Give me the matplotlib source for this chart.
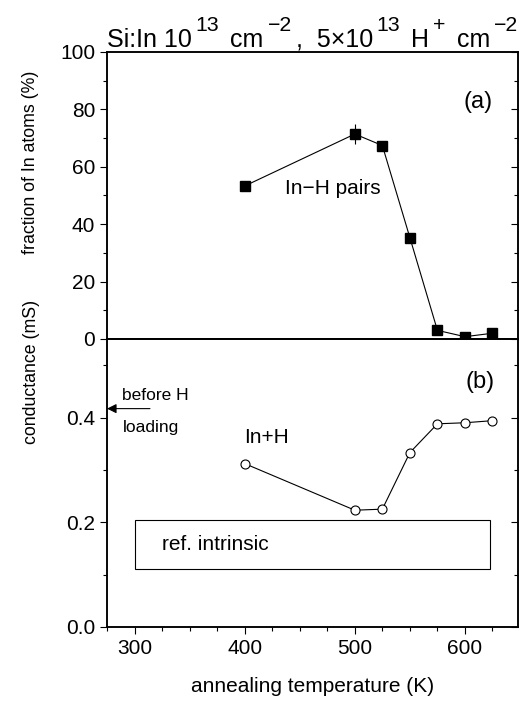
import numpy as np
import matplotlib
matplotlib.use("Agg")
import matplotlib.pyplot as plt
from matplotlib.patches import Rectangle

plt.rcParams['font.family'] = ['Liberation Sans', 'DejaVu Sans']

# --- data ---
temp_a = [400, 500, 525, 550, 575, 600, 625]
frac_inh = [53.3, 71.4, 67.4, 35.3, 3.0, 0.8, 2.0]
err_inh = [0, 3.5, 0, 0, 0, 0, 0]

temp_b = [400, 500, 525, 550, 575, 600, 625]
cond = [0.312, 0.223, 0.225, 0.333, 0.388, 0.390, 0.394]

cond_before = 0.417
ref_x = [300, 623]
ref_y = [0.110, 0.204]

# title pieces: (text, superscript?)
title_parts = [('Si:In 10', False), ('13', True), (' cm', False),
               ('\u22122', True), (',  5\u00d710', False), ('13', True),
               (' H', False), ('+', True), (' cm', False), ('\u22122', True)]

W, H = 520, 704
fig = plt.figure(figsize=(W / 100, H / 100), dpi=100)
ax1 = fig.add_axes([0.2058, 0.5185, 0.790, 0.4077])
ax2 = fig.add_axes([0.2058, 0.1094, 0.790, 0.4091])

fs = 15

# --- panel (a) ---
ax1.plot(temp_a, frac_inh, color='black', lw=0.8, marker='s', ms=7,
         mfc='black', mec='black')
ax1.errorbar(temp_a[1], frac_inh[1], yerr=err_inh[1], color='black',
             lw=0.8, capsize=0)
ax1.set_ylim(0, 100)
ax1.set_yticks(np.arange(0, 101, 20))
ax1.set_yticks(np.arange(10, 100, 20), minor=True)
ax1.text(612, 82.5, '(a)', fontsize=17, ha='center', va='center')
ax1.text(480, 52.5, 'In\u2212H pairs', fontsize=fs, ha='center', va='center')

# --- panel (b) ---
ax2.plot(temp_b, cond, color='black', lw=0.8, marker='o', ms=6.5,
         mfc='white', mec='black', mew=0.8)
ax2.set_ylim(0, 0.55)
ax2.set_yticks([0.0, 0.2, 0.4])
ax2.set_yticks([0.1, 0.3, 0.5], minor=True)
ax2.set_yticklabels(['0.0', '0.2', '0.4'])
ax2.text(614, 0.467, '(b)', fontsize=17, ha='center', va='center')
ax2.text(420, 0.362, 'In+H', fontsize=fs, ha='center', va='center')
ax2.add_patch(Rectangle((ref_x[0], ref_y[0]), ref_x[1] - ref_x[0],
                        ref_y[1] - ref_y[0], fill=False, lw=0.8,
                        edgecolor='black'))
ax2.text(325, (ref_y[0] + ref_y[1]) / 2, 'ref. intrinsic', fontsize=fs,
         ha='left', va='center')
ax2.annotate('', xy=(275, cond_before), xytext=(314, cond_before),
             arrowprops=dict(arrowstyle='-|>', color='black', lw=0.8,
                             mutation_scale=14, shrinkA=0, shrinkB=0))
ax2.text(289, 0.442, 'before H', fontsize=12.5, ha='left', va='center')
ax2.text(289, 0.38, 'loading', fontsize=12.5, ha='left', va='center')
ax2.set_xlabel('annealing temperature (K)', fontsize=fs, labelpad=14)

# y labels sit above the panel centres in the original
fig.text(31 / W, 1 - 162 / H, 'fraction of In atoms (%)', rotation=90,
         fontsize=12.8, ha='center', va='center')
fig.text(31 / W, 1 - 372 / H, 'conductance (mS)', rotation=90,
         fontsize=12.8, ha='center', va='center')

for ax in (ax1, ax2):
    ax.set_xlim(275, 648)
    ax.set_xticks([300, 400, 500, 600])
    ax.set_xticks(np.arange(275, 650, 25), minor=True)
    ax.tick_params(which='both', direction='out', right=False, top=False,
                   labelsize=fs, width=0.8)
    ax.tick_params(which='major', length=5)
    ax.tick_params(which='minor', length=3)
    for sp in ax.spines.values():
        sp.set_linewidth(1.1)
    # right-hand ticks point inwards
    axr = ax.twinx()
    axr.set_ylim(ax.get_ylim())
    axr.set_yticks(ax.get_yticks())
    axr.set_yticks(ax.get_yticks(minor=True), minor=True)
    axr.tick_params(which='both', direction='in', labelright=False, width=0.8)
    axr.tick_params(which='major', length=5)
    axr.tick_params(which='minor', length=3)
    for sp in axr.spines.values():
        sp.set_linewidth(1.1)

ax1.tick_params(axis='x', labelbottom=False)


# --- title built from pieces so the superscripts stay large ---
def draw_title(size, gap=0.0, x0=107, base=47, rise=16):
    renderer = fig.canvas.get_renderer()
    x = x0
    items = []
    for s, sup in title_parts:
        fsz = size * 0.85 if sup else size
        y = base - rise if sup else base
        t = fig.text(x / W, 1 - y / H, s, fontsize=fsz, ha='left',
                     va='baseline')
        items.append(t)
        x += t.get_window_extent(renderer).width + gap
    return items, x - x0 - gap


title_size = 18
items, width = draw_title(title_size)
for t in items:
    t.remove()
draw_title(title_size, gap=max(0.0, (411 - width) / (len(title_parts) - 1)))

fig.savefig('out.png', dpi=100)
